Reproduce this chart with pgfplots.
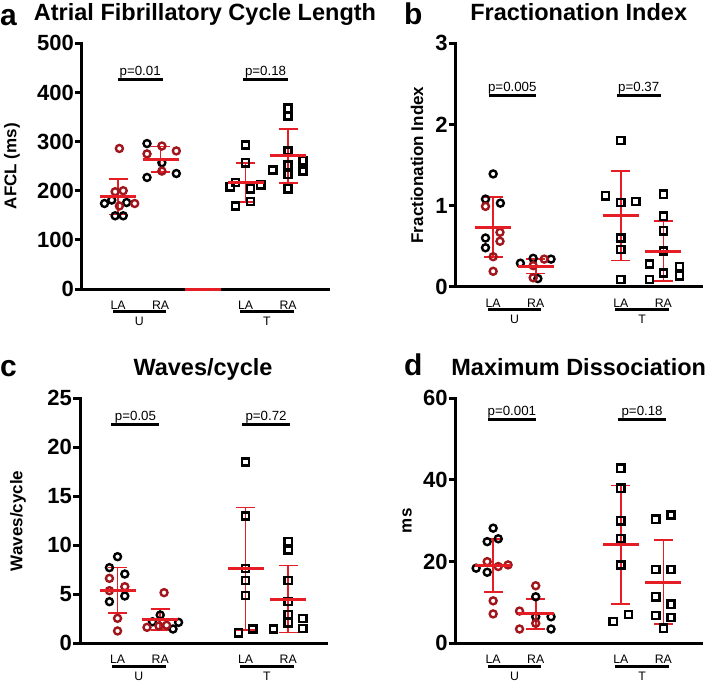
\documentclass[border=0pt]{standalone}
\usepackage{fontspec}
\setmainfont{Liberation Sans}
\usepackage{pgfplots}
\pgfplotsset{compat=1.18}
\definecolor{ptred}{RGB}{160,22,28}
\definecolor{barred}{RGB}{228,30,36}

\pgfplotsset{
  gp/.style={
    scale only axis, width=246pt, height=245pt,
    anchor=south west, clip=false,
    axis x line*=bottom, axis y line*=left,
    axis line style={line width=3pt, line cap=rect},
    tick align=outside, major tick length=7pt,
    ytick style={line width=3pt, black},
    xtick={1,2,4,5}, xticklabels={LA,RA,LA,RA},
    xtick style={draw=none},
    xticklabel style={anchor=center, yshift=-9.2pt, font=\fontsize{12.3}{13}\selectfont},
    yticklabel style={font=\fontsize{22}{24}\selectfont\bfseries, inner xsep=1pt},
    /pgf/number format/assume math mode=true,
    ylabel style={font=\fontsize{17}{19}\selectfont\bfseries, anchor=center},
    title style={at={(axis description cs:0.5,1)}, anchor=base, yshift=17pt,
      font=\fontsize{23.5}{26}\selectfont\bfseries},
  },
  circB/.style={only marks, mark=o, mark size=3.5pt, mark options={draw=black, line width=2.4pt}},
  circR/.style={only marks, mark=o, mark size=3.5pt, mark options={draw=ptred, line width=2.4pt}},
  sqB/.style={only marks, mark=square, mark size=3.6pt, mark options={draw=black, line width=2.4pt}},
  meansd/.style={only marks, mark=-, mark size=18pt, mark options={draw=barred, line width=3pt},
    error bars/.cd, y dir=both, y explicit,
    error bar style={draw=barred, line width=1.6pt},
    error mark options={rotate=90, draw=barred, line width=1.6pt, mark size=9.5pt}},
  brk/.style={black, line width=3pt, no markers},
}
\newcommand{\ptxt}[3]{\node[above, inner sep=1.2pt, font=\fontsize{13.3}{15}\selectfont] at (axis cs:#1,#2) {#3};}
\newcommand{\groups}{%
  \draw[line width=3pt] ([yshift=-22.7pt]axis cs:0.87,0) -- ([yshift=-22.7pt]axis cs:2.13,0);
  \draw[line width=3pt] ([yshift=-22.7pt]axis cs:3.87,0) -- ([yshift=-22.7pt]axis cs:5.13,0);
  \node[font=\fontsize{12.3}{13}\selectfont] at ([yshift=-32.7pt]axis cs:1.5,0) {U};
  \node[font=\fontsize{12.3}{13}\selectfont] at ([yshift=-32.7pt]axis cs:4.5,0) {T};
}

\begin{document}
\begin{tikzpicture}
\useasboundingbox (0,0) rectangle (708pt,-685pt);

% panel letters
\node[anchor=base west, inner sep=0, font=\fontsize{30}{30}\selectfont\bfseries] at (0pt,-26pt) {a};
\node[anchor=base west, inner sep=0, font=\fontsize{30}{30}\selectfont\bfseries] at (404pt,-25pt) {b};
\node[anchor=base west, inner sep=0, font=\fontsize{30}{30}\selectfont\bfseries] at (0pt,-376.7pt) {c};
\node[anchor=base west, inner sep=0, font=\fontsize{30}{30}\selectfont\bfseries] at (404pt,-375pt) {d};

% a: AFCL
\begin{axis}[gp, at={(82pt,-289pt)}, height=245.7pt,
  xmin=0.15, xmax=5.94, ymin=0, ymax=500, ytick={0,100,...,500},
  ylabel={AFCL (ms)}, ylabel style={at={(axis description cs:-0.285,0.5)}},
  title={Atrial Fibrillatory Cycle Length}]
\addplot[circB] coordinates {(0.68,174) (0.85,181) (1.20,176) (0.93,149) (1.12,149)
  (1.68,296) (2.03,257) (1.68,227) (2.37,235)};
\addplot[circR] coordinates {(1.03,286) (0.93,198) (1.12,200) (1.39,174) (1.03,169)
  (2.03,291) (2.37,281) (1.68,275) (2.03,240)};
\addplot[sqB] coordinates {(4,293) (4,257) (3.64,208) (3.76,217) (4.12,204) (4.36,212)
  (4.12,178) (3.76,169) (5,368) (5,352) (5,281) (5,252) (5,233) (5,204) (4.64,242)
  (5.35,261) (5.35,240)};
\addplot[meansd] coordinates {(1,188) +- (0,36) (2,264) +- (0,26) (4,217) +- (0,40)
  (5,271) +- (0,55) (3,0) +- (0,0)};
\addplot[brk] coordinates {(1,427) (2.05,427)};
\addplot[brk] coordinates {(3.95,427) (5,427)};
\ptxt{1.52}{427}{p=0.01}
\ptxt{4.47}{427}{p=0.18}
\groups
\end{axis}

% b: Fractionation Index
\begin{axis}[gp, at={(455.7pt,-286.7pt)}, height=243.4pt,
  xmin=0.12, xmax=5.9, ymin=0, ymax=3, ytick={0,1,2,3},
  ylabel={Fractionation Index}, ylabel style={at={(axis description cs:-0.157,0.5)}},
  title={Fractionation Index}]
\addplot[circB] coordinates {(1,1.39) (0.82,1.08) (1.17,1.03) (0.82,0.60) (0.82,0.48)
  (1.64,0.29) (1.94,0.35) (2.36,0.34) (2.05,0.10)};
\addplot[circR] coordinates {(0.82,0.99) (1.16,0.67) (1.16,0.56) (1,0.37) (1,0.19)
  (1.94,0.26) (2.2,0.34) (1.94,0.11)};
\addplot[sqB] coordinates {(4,1.80) (3.64,1.12) (4,1.04) (4.35,1.05) (4,0.60) (4,0.46)
  (4,0.09) (5,1.14) (5,0.87) (5,0.69) (5,0.44) (4.67,0.28) (4.67,0.09) (5,0.17)
  (5.38,0.25) (5.38,0.135)};
\addplot[meansd] coordinates {(1,0.735) +- (0,0.37) (2,0.255) +- (0,0.09)
  (4,0.875) +- (0,0.55) (5,0.44) +- (0,0.37)};
\addplot[brk] coordinates {(0.9,2.355) (2,2.355)};
\addplot[brk] coordinates {(3.9,2.355) (4.95,2.355)};
\ptxt{1.45}{2.355}{p=0.005}
\ptxt{4.42}{2.355}{p=0.37}
\groups
\end{axis}

% c: Waves/cycle
\begin{axis}[gp, at={(80pt,-643.3pt)}, height=245pt,
  xmin=0.12, xmax=5.885, ymin=0, ymax=25, ytick={0,5,...,25},
  ylabel={Waves/cycle}, ylabel style={at={(axis description cs:-0.252,0.5)}},
  title={Waves/cycle}]
\addplot[circB] coordinates {(1,8.84) (0.81,7.72) (1.17,7.07) (0.81,4.25) (1.17,4.83)
  (2,2.89) (1.82,2.2) (2.43,2.14) (2.3,1.46)};
\addplot[circR] coordinates {(0.81,6.63) (1.17,5.78) (0.81,5.37) (1,2.55) (1,1.26)
  (2.09,5.17) (1.69,1.63) (1.97,1.77) (2.15,1.84)};
\addplot[sqB] coordinates {(4,18.5) (4,13.0) (4,7.65) (4,6.39) (4,4.86) (3.83,1.08)
  (4.17,1.46) (5,10.37) (5,9.52) (5,6.39) (5,4.25) (5,2.96) (5,2.1) (4.65,1.46)
  (5.34,2.55) (5.34,1.53)};
\addplot[meansd] coordinates {(1,5.42) +- (0,2.33) (2,2.43) +- (0,1.07)
  (4,7.6) +- (0,6.24) (5,4.52) +- (0,3.4)};
\addplot[brk] coordinates {(0.85,22.3) (1.98,22.3)};
\addplot[brk] coordinates {(3.92,22.3) (5.05,22.3)};
\ptxt{1.42}{22.3}{p=0.05}
\ptxt{4.48}{22.3}{p=0.72}
\groups
\end{axis}

% d: Maximum Dissociation
\begin{axis}[gp, at={(455.7pt,-643.3pt)}, height=245pt,
  xmin=0.12, xmax=5.9, ymin=0, ymax=60, ytick={0,20,40,60},
  ylabel={ms}, ylabel style={at={(axis description cs:-0.197,0.5)}},
  title={Maximum Dissociation}]
\addplot[circB] coordinates {(1,28.2) (0.86,24.9) (1.12,25.6) (0.6,18.4) (0.86,17.4)
  (2,11.4) (2,6.5) (2.36,6.5) (2.36,3.5)};
\addplot[circR] coordinates {(0.86,20.0) (1.12,18.8) (1.35,19.2) (1,10.4) (1,7.2)
  (2,14.1) (1.62,7.9) (2,4.9) (1.62,3.5)};
\addplot[sqB] coordinates {(4,42.9) (4,38.0) (4,30.0) (4,25.7) (4,19.2) (3.82,5.3)
  (4.18,7.1) (4.82,30.4) (5.18,31.4) (4.82,18.1) (5.18,18.1) (4.82,11.4) (5.18,9.6)
  (4.82,6.8) (5.18,6.3) (5,3.7)};
\addplot[meansd] coordinates {(1,19.05) +- (0,6.5) (2,7.2) +- (0,3.7)
  (4,24.1) +- (0,14.5) (5,15) +- (0,10.3)};
\addplot[brk] coordinates {(0.87,54.7) (2,54.7)};
\addplot[brk] coordinates {(3.93,54.7) (5.07,54.7)};
\ptxt{1.44}{54.7}{p=0.001}
\ptxt{4.5}{54.7}{p=0.18}
\groups
\end{axis}
\end{tikzpicture}
\end{document}
